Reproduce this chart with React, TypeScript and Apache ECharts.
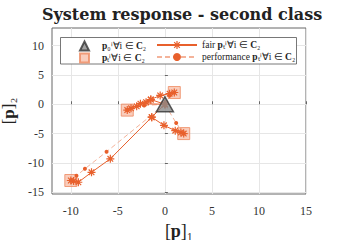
import React, { useEffect, useRef } from "react";
import * as echarts from "echarts";

const xTicks = [-10, -5, 0, 5, 10, 15];
const yTicks = [-15, -10, -5, 0, 5, 10];

const initialPos = [[0, 0]];
const finalPos = [[-10, -13], [2, -5], [-4, -1], [1, 2]];

const fair1 = [[0, 0], [-1.4, -2.2], [-5.8, -9.3], [-7.8, -11.6], [-9.2, -13.3], [-9.7, -13.1], [-10, -13]];
const fair2 = [[0, 0], [-1.4, -2.2], [-0.1, -3.6], [1.1, -4.5], [1.7, -4.8], [2, -5]];
const fair3 = [[0, 0], [-1.5, 0.8], [-2.0, 0.35], [-3.0, -0.35], [-3.6, -0.7], [-4, -1]];
const fair4 = [[0, 0], [-2.6, 0.1], [-1.5, 0.8], [-0.5, 1.5], [0.5, 1.8], [1, 2]];

const perf1 = [[0, 0], [-6.2, -8.1], [-8.5, -11.0], [-9.4, -12.2], [-10, -13]];
const perf2 = [[0, 0], [1.2, -3.2], [2, -5]];
const perf3 = [[0, 0], [-2.2, -0.2], [-4, -1]];
const perf4 = [[0, 0], [0.5, 1.5], [1, 2]];

const fairSets = [fair1, fair2, fair3, fair4];
const perfSets = [perf1, perf2, perf3, perf4];

const ASTERISK =
  "path://M-1,-0.15L1,-0.15L1,0.15L-1,0.15Z" +
  "M0.15,-1L0.15,1L-0.15,1L-0.15,-1Z" +
  "M-0.601,-0.813L0.813,0.601L0.601,0.813L-0.813,-0.601Z" +
  "M-0.813,0.601L0.601,-0.813L0.813,-0.601L-0.601,0.813Z";

const ORANGE = "#e8602c";
const LIGHT = "#f4b39a";

export default function App() {
  const ref = useRef<HTMLDivElement>(null);
  useEffect(() => {
    const chart = echarts.init(ref.current!, null, { renderer: "svg" });
    const serif = "DejaVu Serif";
    const tickFont = "Liberation Serif";
    const legendRich = {
      n: { fontFamily: tickFont, fontSize: 9.5, color: "#222", lineHeight: 10 },
      b: { fontFamily: tickFont, fontSize: 9.5, fontWeight: "bold", color: "#222", lineHeight: 10 },
      sp: { width: 8, lineHeight: 10 },
    };
    const names: Record<string, string> = {
      p0: "{sp|}{b|p}{n|₀ⁱ∀i ∈ }{b|C}{n|₂}",
      pt: "{sp|}{b|p}{n|ₜⁱ∀i ∈ }{b|C}{n|₂}",
      fair: "{n|fair }{b|p}{n|ₜⁱ∀i ∈ }{b|C}{n|₂}",
      performance: "{n|performance }{b|p}{n|ₜⁱ∀i ∈ }{b|C}{n|₂}",
    };
    const series: any[] = [];
    series.push({
      name: "pt",
      type: "scatter",
      data: finalPos,
      symbol: "rect",
      symbolSize: 12,
      z: 1,
      itemStyle: { color: "rgba(242,150,115,0.6)", borderColor: "#ee8a60", borderWidth: 1 },
    });
    perfSets.forEach((d) =>
      series.push({
        name: "performance",
        type: "line",
        data: d,
        symbol: "circle",
        symbolSize: 4,
        z: 2,
        lineStyle: { color: LIGHT, width: 1, type: [5, 3] },
        itemStyle: { color: ORANGE, borderWidth: 0 },
      })
    );
    fairSets.forEach((d) =>
      series.push({
        name: "fair",
        type: "line",
        data: d,
        symbol: ASTERISK,
        symbolSize: 8,
        z: 3,
        lineStyle: { color: ORANGE, width: 1 },
        itemStyle: { color: ORANGE, borderWidth: 0 },
      })
    );
    series.push({
      name: "p0",
      type: "scatter",
      data: initialPos,
      symbol: "triangle",
      symbolSize: [17, 15],
      z: 4,
      itemStyle: { color: "#8a8a8a", borderColor: "#333", borderWidth: 1.5 },
    });

    const mkLegend = (name: string, left: number, top: number, w: number) => ({
      data: [name],
      orient: "horizontal",
      left,
      top,
      itemWidth: w,
      itemHeight: w > 20 ? 10 : 9,
      padding: 0,
      z: 6,
      formatter: (n: string) => names[n],
      textStyle: { rich: legendRich, lineHeight: 10 },
    });

    chart.setOption({
      animation: false,
      title: {
        text: "System response - second class",
        left: 37,
        top: 1,
        textStyle: { fontFamily: serif, fontWeight: "bold", fontSize: 16, color: "#222" },
      },
      grid: {
        left: 52,
        right: 35,
        top: 28,
        bottom: 46,
        outerBoundsMode: "none",
        containLabel: false,
        show: true,
        borderColor: "#666",
        borderWidth: 1,
        backgroundColor: "#fff",
      },
      legend: [
        mkLegend("p0", 79, 40, 9),
        mkLegend("pt", 79, 52, 9),
        mkLegend("fair", 156, 40, 40),
        mkLegend("performance", 156, 52, 40),
      ],
      graphic: [
        {
          type: "rect",
          z: 5,
          shape: { x: 60.5, y: 37.5, width: 236, height: 26.5 },
          style: { fill: "#fff", stroke: "#555", lineWidth: 0.8 },
        },
      ],
      xAxis: {
        type: "value",
        min: -12,
        max: 15,
        name: "{a|[}{b|p}{a|]₁}",
        nameLocation: "middle",
        nameGap: 24,
        nameTextStyle: {
          rich: {
            a: { fontFamily: tickFont, fontSize: 18, color: "#222" },
            b: { fontFamily: tickFont, fontSize: 18, fontWeight: "bold", color: "#222" },
          },
        },
        axisLine: { show: false },
        axisTick: { inside: true, length: 3, customValues: xTicks, lineStyle: { color: "#666" } },
        axisLabel: {
          customValues: xTicks,
          margin: 11,
          fontFamily: tickFont,
          fontSize: 12,
          color: "#333",
        },
        splitLine: { show: true, lineStyle: { color: "#e6e6e6", width: 1 } },
      },
      yAxis: {
        type: "value",
        min: -15.3,
        max: 13,
        name: "{a|[}{b|p}{a|]₂}",
        nameLocation: "middle",
        nameGap: 31,
        nameTextStyle: {
          rich: {
            a: { fontFamily: tickFont, fontSize: 17, color: "#222" },
            b: { fontFamily: tickFont, fontSize: 17, fontWeight: "bold", color: "#222" },
          },
        },
        axisLine: { show: false },
        axisTick: { inside: true, length: 3, customValues: yTicks, lineStyle: { color: "#666" } },
        axisLabel: {
          customValues: yTicks,
          margin: 8,
          fontFamily: tickFont,
          fontSize: 12,
          color: "#333",
        },
        splitLine: { show: true, lineStyle: { color: "#e6e6e6", width: 1 } },
      },
      series,
    });
    return () => chart.dispose();
  }, []);
  return <div ref={ref} style={{ width: 341, height: 240, position: "absolute", left: 0, top: 0 }} />;
}
